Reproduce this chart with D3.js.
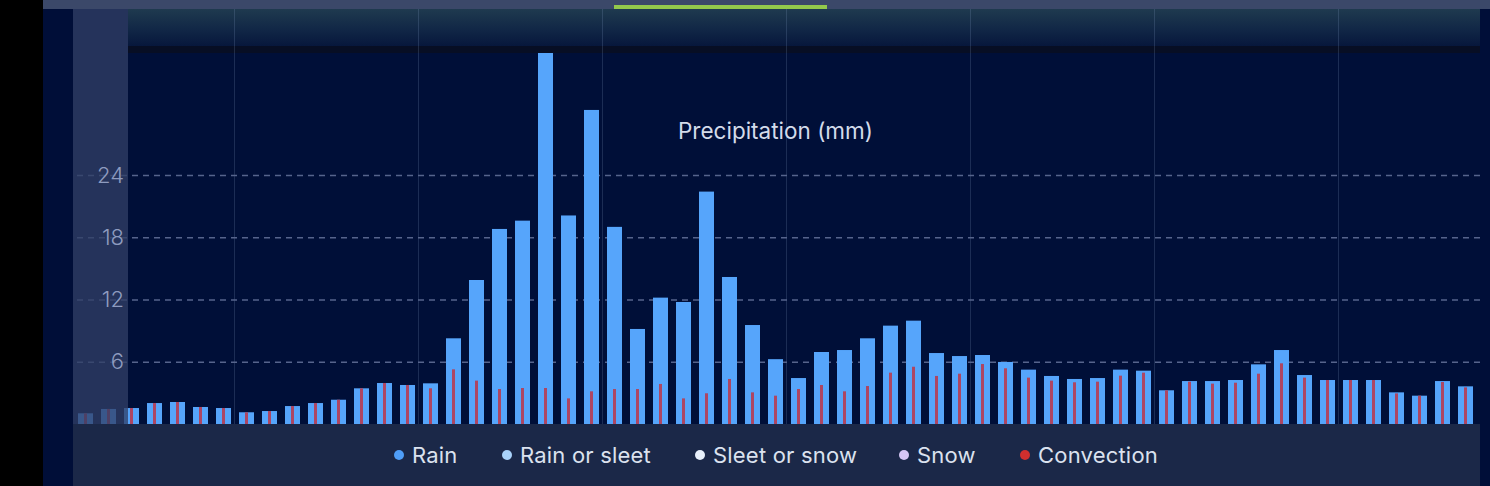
<!DOCTYPE html>
<html>
<head>
<meta charset="utf-8">
<script src="https://cdn.jsdelivr.net/npm/d3@7"></script>
<style>
  html, body { margin: 0; padding: 0; background: #000; }
  svg { display: block; }
  text { font-family: Inter, "Noto Sans", sans-serif; }
</style>
</head>
<body>
<svg id="chart" width="1490" height="486"></svg>
<script>
// ---- data ----
const categories = [
  "03:00","06:00","09:00","12:00","15:00","18:00","21:00",
  "00:00","03:00","06:00","09:00","12:00","15:00","18:00","21:00",
  "00:00","03:00","06:00","09:00","12:00","15:00","18:00","21:00",
  "00:00","03:00","06:00","09:00","12:00","15:00","18:00","21:00",
  "00:00","03:00","06:00","09:00","12:00","15:00","18:00","21:00",
  "00:00","03:00","06:00","09:00","12:00","15:00","18:00","21:00",
  "00:00","03:00","06:00","09:00","12:00","15:00","18:00","21:00",
  "00:00","03:00","06:00","09:00","12:00","15:00"
];
const rain = [
  1.03,1.45,1.54,2.02,2.12,1.64,1.54,1.13,1.25,1.73,2.02,2.34,3.44,3.95,3.76,3.92,
  8.26,13.88,18.8,19.6,35.8,20.1,30.27,19.0,9.16,12.18,11.76,22.4,14.17,9.54,6.25,
  4.43,6.94,7.13,8.26,9.48,9.96,6.84,6.55,6.65,5.98,5.24,4.63,4.34,4.43,5.24,
  5.14,3.25,4.14,4.14,4.24,5.75,7.13,4.72,4.24,4.24,4.24,3.05,2.73,4.14,3.63
];
const convection = [
  1.03,1.45,1.54,2.02,2.12,1.64,1.54,1.13,1.25,1.73,2.02,2.34,3.44,3.95,3.76,3.44,
  5.27,4.18,3.37,3.47,3.47,2.47,3.15,3.37,3.37,3.86,2.47,2.96,4.34,3.05,2.73,
  3.37,3.76,3.15,3.66,4.95,5.52,4.63,4.85,5.78,5.37,4.47,4.18,4.02,4.08,4.66,
  4.95,3.25,4.08,3.89,3.98,4.85,5.85,4.47,4.24,4.24,4.24,2.95,2.73,4.05,3.53
];
const yTicks = [6, 12, 18, 24];
const legendLabels = ["Rain", "Rain or sleet", "Sleet or snow", "Snow", "Convection"];
const legendColors = ["#4f9ef8", "#a9d2fa", "#e8f0fb", "#d6c6f5", "#cf2f2e"];
const title = "Precipitation (mm)";

// ---- layout ----
const svg = d3.select("#chart");
const W = 1490, H = 486;
const plotL = 128, plotR = 1480, plotT = 53, base = 424;
const panelL = 73, headT = 9;

const x = d3.scaleBand().domain(d3.range(categories.length))
  .range([74, 74 + 23 * categories.length])
  .paddingInner(8 / 23).paddingOuter(4 / 23);
const y = d3.scaleLinear().domain([0, 24]).range([base, 175]);

const defs = svg.append("defs");
const g1 = defs.append("linearGradient").attr("id", "head").attr("x1", 0).attr("x2", 0).attr("y1", 0).attr("y2", 1);
g1.append("stop").attr("offset", "0%").attr("stop-color", "#1f3a4f");
g1.append("stop").attr("offset", "55%").attr("stop-color", "#112746");
g1.append("stop").attr("offset", "100%").attr("stop-color", "#07173c");
defs.append("clipPath").attr("id", "plotclip").append("rect")
  .attr("x", 0).attr("y", plotT).attr("width", W).attr("height", base - plotT);

// backgrounds
svg.append("rect").attr("width", W).attr("height", H).attr("fill", "#000");
svg.append("rect").attr("x", 43).attr("width", W - 43).attr("height", H).attr("fill", "#000e38");
svg.append("rect").attr("x", 43).attr("y", 0).attr("width", W - 43).attr("height", headT).attr("fill", "#3b4869");
svg.append("rect").attr("x", 614).attr("y", 5).attr("width", 213).attr("height", 4).attr("fill", "#93c84c");
svg.append("rect").attr("x", plotL).attr("y", headT).attr("width", plotR - plotL).attr("height", 37).attr("fill", "url(#head)");
svg.append("rect").attr("x", plotL).attr("y", 46).attr("width", plotR - plotL).attr("height", 7).attr("fill", "#070e24");
svg.append("rect").attr("x", plotL).attr("y", plotT).attr("width", plotR - plotL).attr("height", base - plotT).attr("fill", "#000f38");

// vertical day gridlines
const half = x.step() * x.paddingInner() / 2;
svg.append("g").selectAll("line")
  .data(d3.range(categories.length).filter(i => categories[i] === "00:00"))
  .join("line")
  .attr("x1", i => Math.round(x(i) - half) - 0.5).attr("x2", i => Math.round(x(i) - half) - 0.5)
  .attr("y1", headT).attr("y2", base)
  .attr("stroke", "rgba(140,165,205,0.2)").attr("stroke-width", 1);

// horizontal dashed gridlines
const ga = svg.append("g").attr("transform", `translate(${plotR},0)`).call(
  d3.axisRight(y).tickValues(yTicks).tickSize(-(plotR - panelL)).tickFormat(""));
ga.select(".domain").remove();
ga.selectAll("line").attr("stroke", "#56648c").attr("stroke-width", 1.5).attr("stroke-dasharray", "6 5");

// bars
const bars = svg.append("g").attr("clip-path", "url(#plotclip)");
bars.selectAll("rect.rain").data(rain).join("rect").attr("class", "rain")
  .attr("x", (d, i) => x(i)).attr("width", x.bandwidth())
  .attr("y", d => y(d)).attr("height", d => base - y(d))
  .attr("fill", "#56a5fb");
bars.selectAll("rect.conv").data(convection).join("rect").attr("class", "conv")
  .attr("x", (d, i) => x(i) + x.bandwidth() / 2 - 1.5).attr("width", 3)
  .attr("y", d => y(d)).attr("height", d => base - y(d))
  .attr("fill", "#ad4663");

// y-axis panel overlay
svg.append("rect").attr("x", panelL).attr("y", headT).attr("width", plotL - panelL).attr("height", base - headT)
  .attr("fill", "#313f66").attr("opacity", 0.76);

// tick labels
const gl = svg.append("g").attr("transform", `translate(${plotL},0)`).call(
  d3.axisLeft(y).tickValues(yTicks).tickSize(0).tickPadding(4));
gl.select(".domain").remove();
gl.selectAll("text").attr("fill", "#8e9bbf").attr("font-size", 22).attr("font-weight", 300)
  .attr("font-family", "Inter, sans-serif");

// title
svg.append("text").attr("x", 775.5).attr("y", 139).attr("text-anchor", "middle")
  .attr("fill", "#d3dbea").attr("font-size", 22.5).text(title);

// legend
svg.append("rect").attr("x", panelL).attr("y", base).attr("width", plotR - panelL).attr("height", H - base).attr("fill", "#1b2848");
const legendX = [399, 507, 700, 904, 1025];
const lg = svg.append("g").selectAll("g").data(legendLabels).join("g")
  .attr("transform", (d, i) => `translate(${legendX[i]},455)`);
lg.append("circle").attr("r", 5).attr("fill", (d, i) => legendColors[i]);
lg.append("text").attr("x", 13).attr("y", 8).attr("fill", "#dbe2ef").attr("font-size", 22)
  .attr("letter-spacing", 0.2).text(d => d);
</script>
</body>
</html>
